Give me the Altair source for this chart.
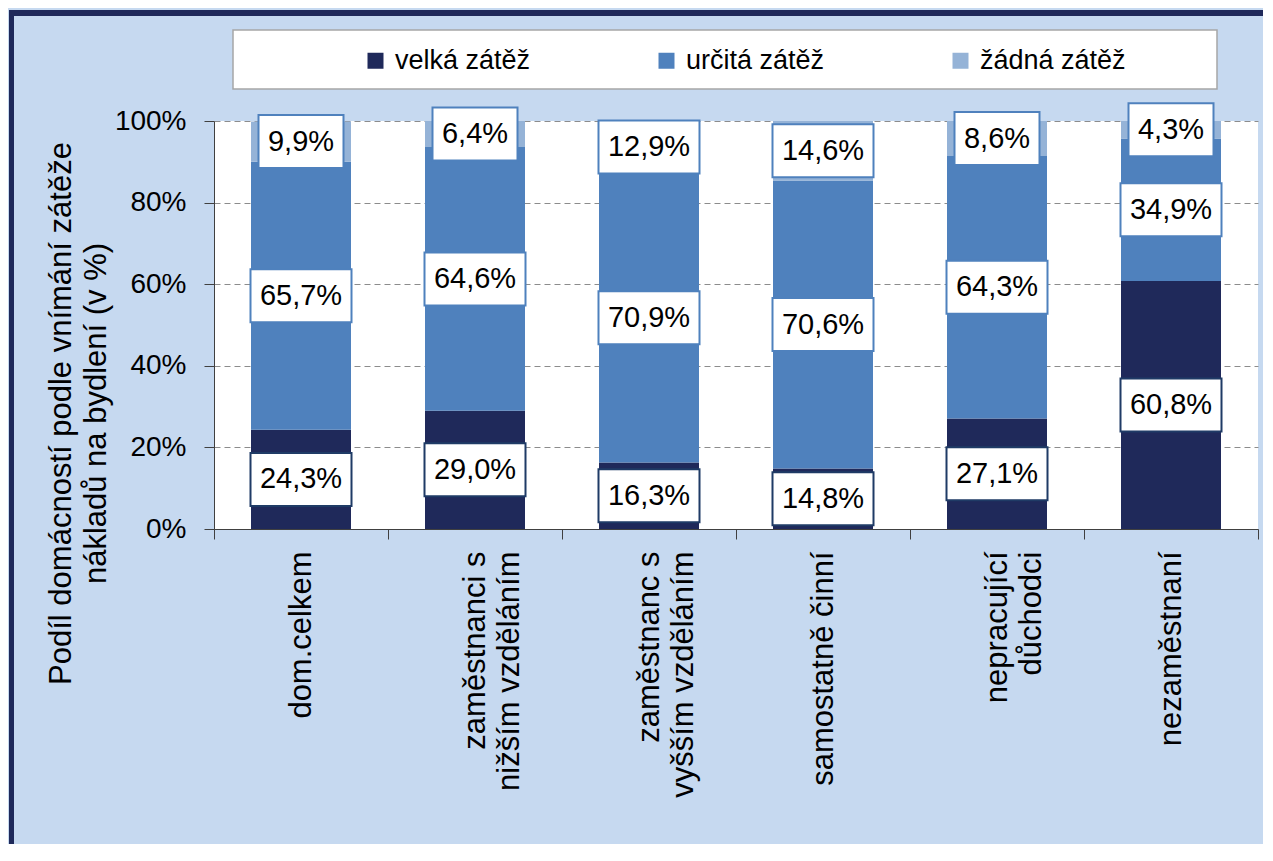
import altair as alt
import pandas as pd

# ---- data ----
categories = [
    "dom.celkem",
    "zaměstnanci s\nnižším vzděláním",
    "zaměstnanc s\nvyšším vzděláním",
    "samostatně činní",
    "nepracující\ndůchodci",
    "nezaměstnaní",
]
series = ["velká zátěž", "určitá zátěž", "žádná zátěž"]
velka = [24.3, 29.0, 16.3, 14.8, 27.1, 60.8]
urcita = [65.7, 64.6, 70.9, 70.6, 64.3, 34.9]
zadna = [9.9, 6.4, 12.9, 14.6, 8.6, 4.3]
y_ticks = [0, 20, 40, 60, 80, 100]
y_title = ["Podíl domácností podle vnímání zátěže", "nákladů na bydlení (v %)"]

# ---- styles ----
FONT = "Liberation Sans"
colors = ["#1F295A", "#4F81BD", "#95B3D7"]
box_borders = ["#1F3B66", "#4F81BD", "#4F81BD"]
BG = "#C6D9F0"
NAVY = "#1F295A"
AXIS = "#404040"
W, H = 1044, 408
PAD = {"left": 206, "top": 113, "right": 5, "bottom": 315}

rows = []
for i, cat in enumerate(categories):
    base = 0.0
    for j, (s, vals) in enumerate(zip(series, [velka, urcita, zadna])):
        v = vals[i]
        rows.append(dict(cat=cat, series=s, order=j, value=v, mid=base + v / 2,
                         label=f"{v:.1f}".replace(".", ",") + "%"))
        base += v
df = pd.DataFrame(rows)

x_enc = alt.X(
    "cat:N",
    sort=categories,
    scale=alt.Scale(paddingInner=0, paddingOuter=0),
    axis=alt.Axis(
        title=None,
        labelAngle=270,
        labelAlign="right",
        labelBaseline="middle",
        labelExpr="split(datum.label, '\\n')",
        labelFont=FONT,
        labelFontSize=31,
        labelLineHeight=34,
        labelPadding=12,
        labelLimit=600,
        labelOverlap=False,
        labelColor="black",
        tickBand="extent",
        tickSize=10,
        tickColor=AXIS,
        domainColor=AXIS,
        grid=False,
    ),
)

y_axis = alt.Axis(
    values=y_ticks,
    labelExpr="datum.value + '%'",
    labelFont=FONT,
    labelFontSize=28,
    labelPadding=18,
    labelColor="black",
    tickSize=10,
    tickColor=AXIS,
    domainColor=AXIS,
    grid=True,
    gridDash=[6, 4],
    gridColor="#8C8C8C",
    title=y_title,
    titleFont=FONT,
    titleFontSize=31,
    titleFontWeight="normal",
    titleColor="black",
    titleAngle=270,
    titleAlign="center",
    titleBaseline="alphabetic",
    titleLineHeight=35,
    titleX=-144,
    titleY=292,
)
y_scale = alt.Scale(domain=[0, 100], nice=False)

base = alt.Chart(df)

bars = base.mark_bar(size=100).encode(
    x=x_enc,
    y=alt.Y("value:Q", stack="zero", scale=y_scale, axis=y_axis),
    color=alt.Color(
        "series:N",
        scale=alt.Scale(domain=series, range=colors),
        legend=alt.Legend(
            orient="none",
            legendX=148,
            legendY=-74,
            direction="horizontal",
            title=None,
            labelFont=FONT,
            labelFontSize=27,
            labelColor="black",
            labelOffset=6,
            labelLimit=400,
            symbolType="square",
            symbolSize=256,
            symbolStrokeWidth=0,
            columnPadding=122,
            padding=0,
        ),
    ),
    order=alt.Order("order:Q"),
)

boxes = base.transform_calculate(
    bw="length(datum.label) > 4 ? 101 : 85"
).transform_calculate(
    bsize="datum.bw * datum.bw",
    bshape="'M-1,-' + (53/datum.bw) + 'L1,-' + (53/datum.bw) + 'L1,' + (53/datum.bw) + 'L-1,' + (53/datum.bw) + 'Z'",
).mark_point(filled=True, fill="white", strokeWidth=2, opacity=1).encode(
    x=x_enc,
    y=alt.Y("mid:Q", stack=None, scale=y_scale, axis=y_axis),
    shape=alt.Shape("bshape:N", scale=None, legend=None),
    size=alt.Size("bsize:Q", scale=None, legend=None),
    stroke=alt.Stroke("series:N", scale=alt.Scale(domain=series, range=box_borders), legend=None),
)

texts = base.mark_text(font=FONT, fontSize=29, color="black", align="center", baseline="middle").encode(
    x=x_enc,
    y=alt.Y("mid:Q", stack=None, scale=y_scale, axis=y_axis),
    text="label:N",
)

one = alt.Data(values=[{"k": 1}])
# outer frame: top and left edges of the navy border, drawn as thin filled bands
frame_top = alt.Chart(one).mark_rect(fill=NAVY, strokeWidth=0).encode(
    x=alt.value(-205), x2=alt.value(W + PAD["right"]), y=alt.value(-111), y2=alt.value(-105)
)
frame_left = alt.Chart(one).mark_rect(fill=NAVY, strokeWidth=0).encode(
    x=alt.value(-205), x2=alt.value(-200), y=alt.value(-111), y2=alt.value(H + PAD["bottom"])
)
legend_box = alt.Chart(one).mark_rect(fill="white", stroke="#A6A6A6", strokeWidth=1.5).encode(
    x=alt.value(19), x2=alt.value(1003), y=alt.value(-91), y2=alt.value(-32)
)

chart = alt.layer(legend_box, frame_top, frame_left, bars, boxes, texts).properties(
    width=W,
    height=H,
    autosize=alt.AutoSizeParams(type="none"),
    padding=PAD,
    background=BG,
).configure_view(fill="white", strokeWidth=0)

chart.save("out.html", embed_options={"renderer": "svg", "actions": False})
